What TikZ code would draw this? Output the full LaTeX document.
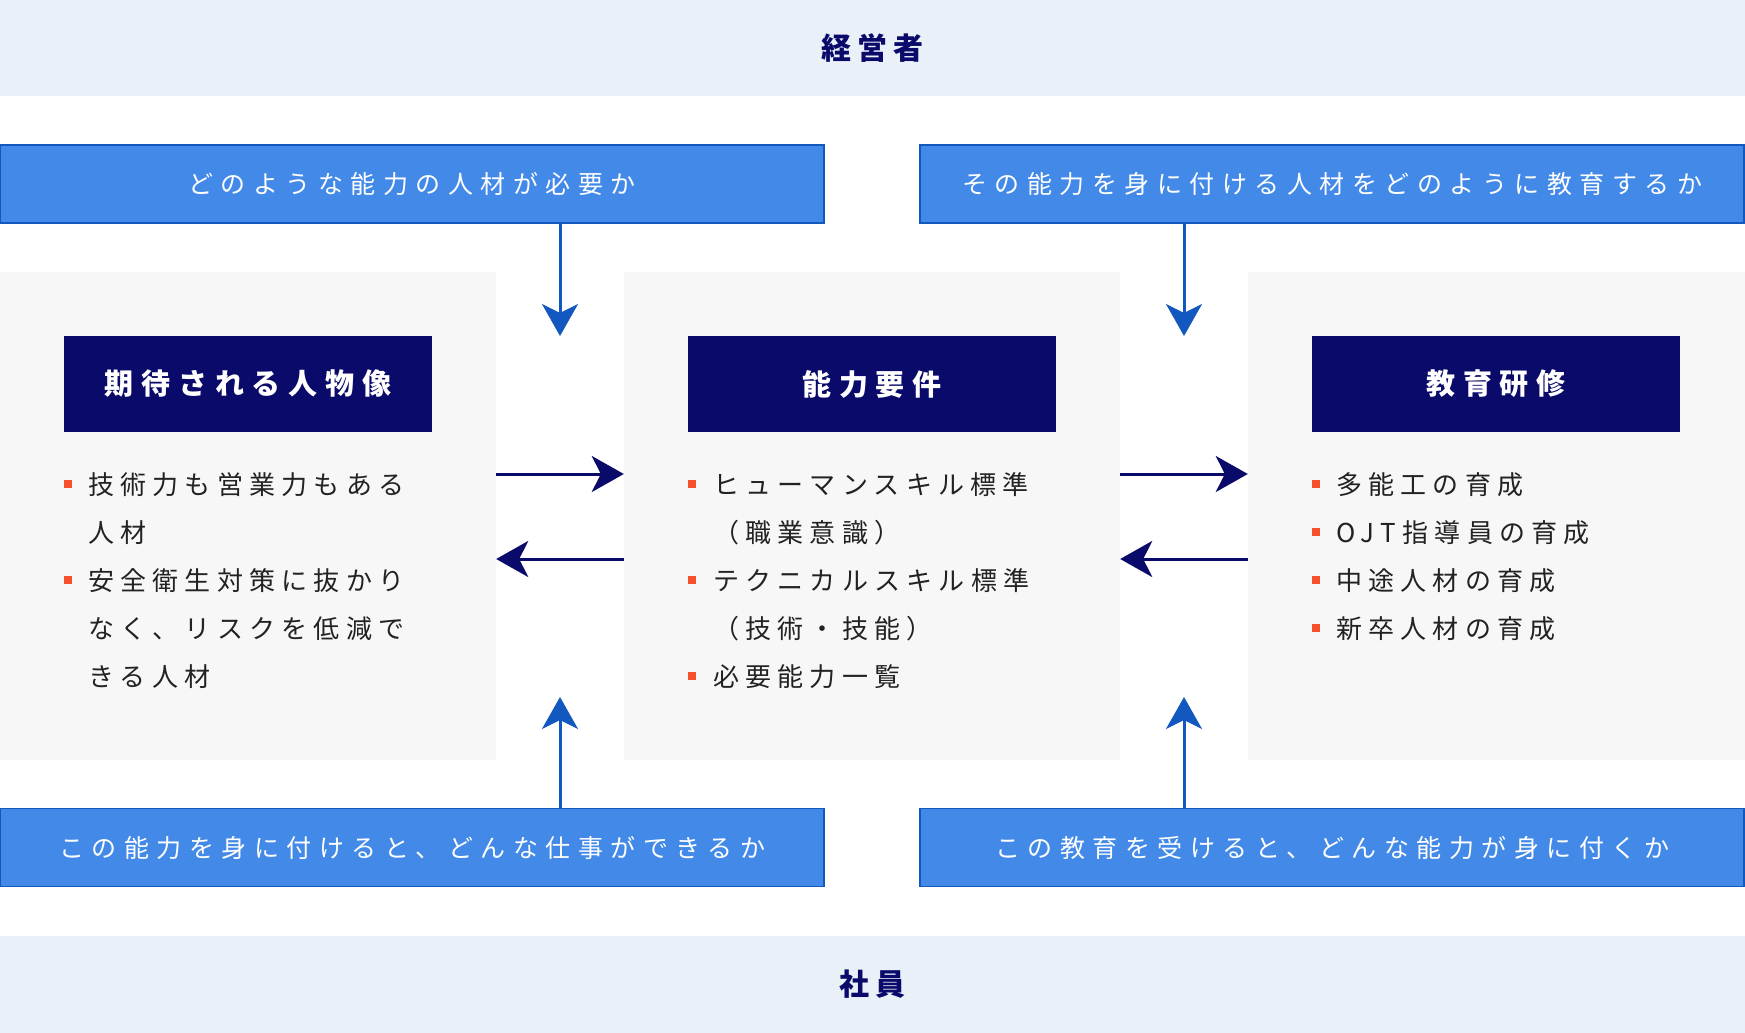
\documentclass[tikz,border=0pt]{standalone}
\usepackage{fontspec}
\setmainfont{Noto Sans CJK JP}
\usetikzlibrary{arrows.meta}
\definecolor{bandbg}{HTML}{E9F0F8}
\definecolor{panelbg}{HTML}{F7F7F7}
\definecolor{navy}{HTML}{0A0A6B}
\definecolor{qblue}{HTML}{4289E8}
\definecolor{qedge}{HTML}{1258BE}
\definecolor{bulletred}{HTML}{F4512C}
\definecolor{bodytxt}{HTML}{222222}

\begin{document}
\begin{tikzpicture}[x=1pt, y=-1pt,
  band/.style={fill=bandbg, minimum width=1745pt, minimum height=96pt, inner sep=0pt, text=navy,
    font=\fontsize{30}{36}\selectfont\bfseries\addfontfeatures{LetterSpace=20}},
  qbox/.style={fill=qblue, draw=qedge, line width=1.5pt, minimum width=824pt, minimum height=78pt, inner sep=0pt, text=white,
    font=\fontsize{25}{30}\selectfont\addfontfeatures{LetterSpace=30}},
  panel/.style={fill=panelbg, minimum width=496pt, minimum height=488pt, inner sep=0pt},
  head/.style={fill=navy, minimum width=368pt, minimum height=96pt, inner sep=0pt, text=white,
    font=\fontsize{29}{35}\selectfont\bfseries\addfontfeatures{LetterSpace=27}},
  itm/.style={anchor=base west, inner sep=0pt, text width=360pt, align=left, text=bodytxt,
    font=\fontsize{26}{48}\selectfont\addfontfeatures{LetterSpace=24}},
  dot/.style={fill=bulletred, minimum size=8pt, inner sep=0pt},
  navyarrow/.style={draw=navy, line width=3pt, -{Stealth[length=32pt, width=36pt, inset=9pt]}},
  bluearrow/.style={draw=qedge, line width=3pt, -{Stealth[length=32pt, width=36pt, inset=9pt]}}]
\useasboundingbox (0,0) rectangle (1745,1033);
\node[band] (keiei) at (872.5,48) {経営者};
\node[band, minimum height=97pt] (shain) at (872.5,984.5) {社員};
\node[qbox] (qneed) at (412,184) {どのような能力の人材が必要か};
\node[qbox] (qedu) at (1332,184) {その能力を身に付ける人材をどのように教育するか};
\node[qbox] (qjob) at (412,847.5) {この能力を身に付けると、どんな仕事ができるか};
\node[qbox] (qabil) at (1332,847.5) {この教育を受けると、どんな能力が身に付くか};
\node[panel] (pjinbutsu) at (248,516) {};
\node[panel] (pnoryoku) at (872,516) {};
\node[panel, minimum width=497pt] (pkyoiku) at (1496.5,516) {};
\node[head] (hjinbutsu) at (248,384) {期待される人物像};
\node[head] (hnoryoku) at (872,384) {能力要件};
\node[head] (hkyoiku) at (1496,384) {教育研修};
\node[dot] (bj1) at (68,484) {};
\node[dot] (bj2) at (68,580) {};
\node[itm] (ij1) at (88,494.5) {技術力も営業力もある\\人材};
\node[itm] (ij2) at (88,590.5) {安全衛生対策に抜かり\\なく、リスクを低減で\\きる人材};
\node[dot] (bn1) at (692,484) {};
\node[dot] (bn2) at (692,580) {};
\node[dot] (bn3) at (692,676) {};
\node[itm] (in1) at (713,494.5) {ヒューマンスキル標準\\（職業意識）};
\node[itm] (in2) at (713,590.5) {テクニカルスキル標準\\（技術・技能）};
\node[itm] (in3) at (713,686.5) {必要能力一覧};
\node[dot] (bk1) at (1316,484) {};
\node[dot] (bk2) at (1316,532) {};
\node[dot] (bk3) at (1316,580) {};
\node[dot] (bk4) at (1316,628) {};
\node[itm] (ik1) at (1336,494.5) {多能工の育成};
\node[itm] (ik2) at (1336,542.5) {OJT指導員の育成};
\node[itm] (ik3) at (1336,590.5) {中途人材の育成};
\node[itm] (ik4) at (1336,638.5) {新卒人材の育成};
\draw[navyarrow] ([yshift=42pt]pjinbutsu.east) -- ([yshift=42pt]pnoryoku.west);
\draw[navyarrow] ([yshift=-43pt]pnoryoku.west) -- ([yshift=-43pt]pjinbutsu.east);
\draw[navyarrow] ([yshift=42pt]pnoryoku.east) -- ([yshift=42pt]pkyoiku.west);
\draw[navyarrow] ([yshift=-43pt]pkyoiku.west) -- ([yshift=-43pt]pnoryoku.east);
\coordinate (tneed) at (560,336);
\coordinate (tedu) at (1184,336);
\coordinate (tjob) at (560,697);
\coordinate (tabil) at (1184,697);
\draw[bluearrow] (qneed.south -| tneed) -- (tneed);
\draw[bluearrow] (qedu.south -| tedu) -- (tedu);
\draw[bluearrow] (qjob.north -| tjob) -- (tjob);
\draw[bluearrow] (qabil.north -| tabil) -- (tabil);
\end{tikzpicture}
\end{document}
